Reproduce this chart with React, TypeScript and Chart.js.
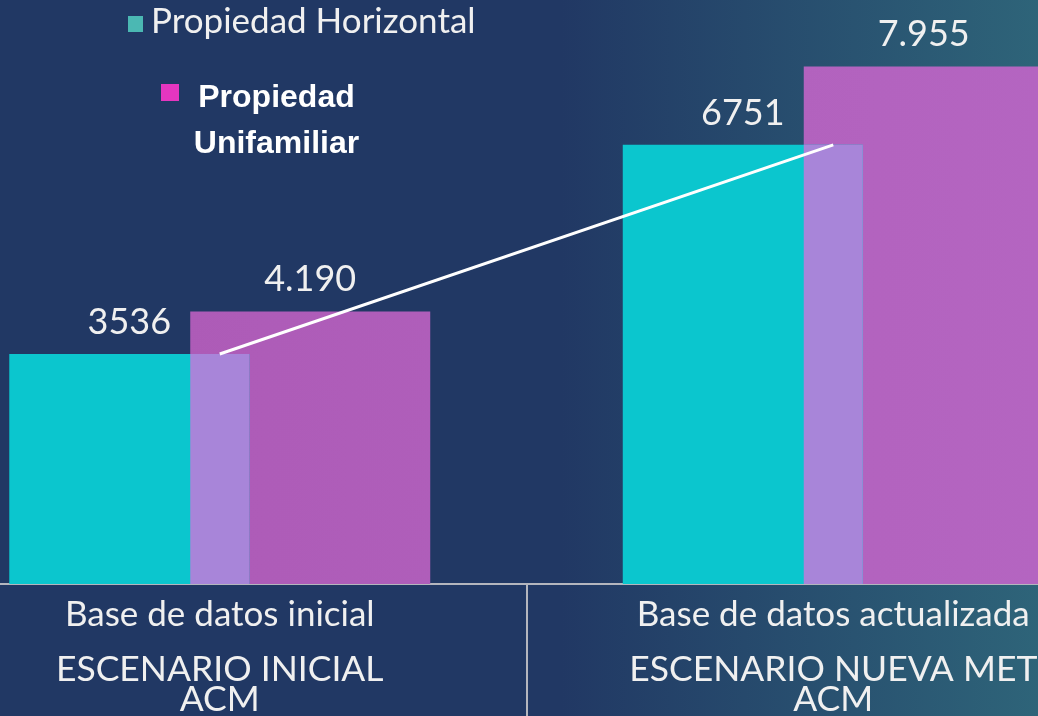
import { useEffect, useRef } from 'react';
import { Chart, registerables } from 'chart.js';

Chart.register(...registerables);

// ---- data ----
const categories = ['Base de datos inicial', 'Base de datos actualizada'];
const scenarioLabels = [
  ['ESCENARIO INICIAL', 'ACM'],
  ['ESCENARIO NUEVA MET', 'ACM'],
];
const seriesNames = ['Propiedad Horizontal', 'Propiedad Unifamiliar'];
const horizontalValues = [3536, 6751];
const unifamiliarValues = [4190, 7955];
const trendValues = [3536, 6751];
const yMin = 0;
const yMax = 8977;

// ---- layout constants ----
const SHIFT = 87; // canvas extends beyond the left edge of the page
const TEXT = '#f0f0f0';
const AXIS = '#b4b6be';

const overlapPlugin = {
  id: 'overlap',
  afterDatasetDraw(chart: any, args: any) {
    if (args.index !== 0) return;
    const a = chart.getDatasetMeta(0).data;
    const b = chart.getDatasetMeta(1).data;
    const ctx = chart.ctx;
    ctx.save();
    ctx.fillStyle = '#a885d9';
    a.forEach((ea: any, i: number) => {
      const eb = b[i];
      if (!eb) return;
      const pa = ea.getProps(['x', 'y', 'base', 'width'], true);
      const pb = eb.getProps(['x', 'y', 'base', 'width'], true);
      const left = Math.max(pa.x - pa.width / 2, pb.x - pb.width / 2);
      const right = Math.min(pa.x + pa.width / 2, pb.x + pb.width / 2);
      const top = Math.max(pa.y, pb.y);
      const bottom = Math.min(pa.base, pb.base);
      if (right > left && bottom > top) ctx.fillRect(left, top, right - left, bottom - top);
    });
    ctx.restore();
  },
};

const valueLabelPlugin = {
  id: 'valueLabels',
  afterDatasetsDraw(chart: any) {
    const ctx = chart.ctx;
    ctx.save();
    ctx.fillStyle = TEXT;
    ctx.font = '400 36px Lato';
    ctx.textAlign = 'center';
    ctx.textBaseline = 'alphabetic';
    [0, 1].forEach((di) => {
      const meta = chart.getDatasetMeta(di);
      const data = chart.data.datasets[di].data as number[];
      meta.data.forEach((el: any, i: number) => {
        const v = data[i];
        const txt = di === 0 ? String(v) : v.toLocaleString('de-DE');
        ctx.fillText(txt, el.x, el.y - 20);
      });
    });
    ctx.restore();
  },
};

const legendPlugin = {
  id: 'customLegend',
  afterDraw(chart: any) {
    const ctx = chart.ctx;
    const ds = chart.data.datasets;
    ctx.save();
    // first entry
    ctx.fillStyle = '#4bb8b3';
    ctx.fillRect(128 + SHIFT, 16, 15, 16);
    ctx.fillStyle = TEXT;
    ctx.font = '400 35px Lato';
    ctx.textAlign = 'left';
    ctx.textBaseline = 'alphabetic';
    ctx.fillText(ds[0].label, 151 + SHIFT, 33);
    // second entry
    ctx.fillStyle = '#e536c0';
    ctx.fillRect(161 + SHIFT, 84, 18, 17);
    ctx.fillStyle = '#ffffff';
    ctx.font = 'bold 32px "Liberation Sans", Arial, sans-serif';
    ctx.textAlign = 'center';
    const words = String(ds[1].label).split(' ');
    words.forEach((w: string, i: number) => {
      ctx.fillText(w, 276.5 + SHIFT, 107 + i * 46);
    });
    ctx.restore();
  },
};

export default function App() {
  const ref = useRef<HTMLCanvasElement>(null);

  useEffect(() => {
    if (!ref.current) return;
    const chart = new Chart(ref.current, {
      type: 'bar',
      data: {
        labels: categories,
        datasets: [
          {
            type: 'bar',
            label: seriesNames[0],
            data: horizontalValues,
            backgroundColor: '#0bc6ce',
            borderWidth: 0,
            categoryPercentage: 0.59,
            barPercentage: 1.326,
            order: 2,
          },
          {
            type: 'bar',
            label: seriesNames[1],
            data: unifamiliarValues,
            backgroundColor: (c: any) => {
              const area = c.chart.chartArea;
              if (!area) return '#b060bc';
              const g = c.chart.ctx.createLinearGradient(area.left, 0, area.right, 0);
              g.addColorStop(0, '#ab58b4');
              g.addColorStop(1, '#b566c2');
              return g;
            },
            borderWidth: 0,
            categoryPercentage: 0.59,
            barPercentage: 1.326,
            order: 3,
          },
          {
            type: 'line',
            label: 'Tendencia',
            data: trendValues,
            borderColor: '#ffffff',
            borderWidth: 3,
            pointRadius: 0,
            fill: false,
            order: 1,
          } as any,
        ],
      },
      options: {
        animation: false,
        responsive: true,
        maintainAspectRatio: false,
        layout: { padding: 0 },
        plugins: {
          legend: { display: false },
          tooltip: { enabled: false },
        },
        scales: {
          x: {
            type: 'category',
            position: 'bottom',
            offset: true,
            afterFit: (s: any) => {
              s.height = 60;
            },
            grid: {
              offset: true,
              drawOnChartArea: false,
              drawTicks: true,
              tickLength: 60,
              color: AXIS,
              lineWidth: 2,
            },
            border: { display: true, color: AXIS, width: 2 },
            ticks: {
              color: TEXT,
              font: { family: 'Lato', size: 35, weight: '400' as any },
              padding: -50,
              maxRotation: 0,
              autoSkip: false,
            },
          },
          x2: {
            type: 'category',
            position: 'bottom',
            labels: scenarioLabels as any,
            offset: true,
            afterFit: (s: any) => {
              s.height = 72;
            },
            grid: {
              offset: true,
              drawOnChartArea: false,
              drawTicks: true,
              tickLength: 72,
              color: AXIS,
              lineWidth: 2,
            },
            border: { display: false },
            ticks: {
              color: TEXT,
              font: { family: 'Lato', size: 35.5, weight: '400' as any, lineHeight: 0.845 },
              padding: -61,
              maxRotation: 0,
              autoSkip: false,
            },
          },
          y: {
            display: false,
            min: yMin,
            max: yMax,
          },
        },
      },
      plugins: [overlapPlugin, valueLabelPlugin, legendPlugin],
    });
    return () => chart.destroy();
  }, []);

  return (
    <div
      style={{
        position: 'fixed',
        left: 0,
        top: 0,
        width: 1038,
        height: 716,
        overflow: 'hidden',
        background: 'linear-gradient(to right, #213864 0%, #213864 54%, #2e6479 100%)',
      }}
    >
      <div style={{ position: 'absolute', left: -SHIFT, top: 0, width: 1227, height: 716 }}>
        <canvas ref={ref} />
      </div>
    </div>
  );
}
